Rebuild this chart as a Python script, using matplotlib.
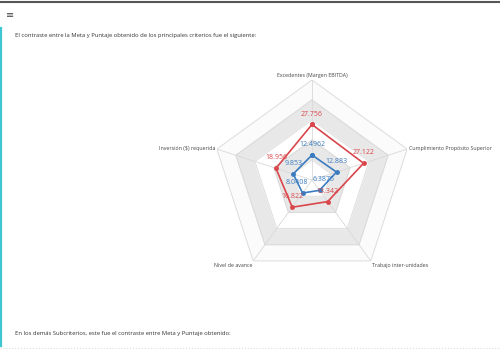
import matplotlib.pyplot as plt
import numpy as np

plt.rcParams['font.family'] = ['Open Sans', 'DejaVu Sans']

categories = ["Excedentes (Margen EBITDA)", "Cumplimiento Propósito Superior",
              "Trabajo inter-unidades", "Nivel de avance", "Inversión ($) requerida"]
meta = [27.756, 27.122, 13.342, 16.822, 18.956]
puntaje = [12.4962, 12.883, 6.3875, 8.0408, 9.853]
meta_labels = ["27.756", "27.122", "13.342", "16.822", "18.956"]
puntaje_labels = ["12.4962", "12.883", "6.3875", "8.0408", "9.853"]
levels = [10, 20, 30, 40, 50]

red = "#d9464b"
blue = "#3b7cc0"

fig = plt.figure(figsize=(5, 3.5), dpi=100)

# page background: header, texts, left accent bar
bg = fig.add_axes([0, 0, 1, 1])
bg.set_xlim(0, 500)
bg.set_ylim(350, 0)
bg.axis("off")
bg.axhline(2, color="#555555", lw=1.5)
bg.text(10, 15, "≡", fontsize=7, color="#444444", ha="center", va="center",
        family=['DejaVu Sans'])
bg.plot([1, 1], [28, 346], color="#3fc6d3", lw=1.6)
bg.text(15, 35, "El contraste entre la Meta y Puntaje obtenido de los principales criterios fue el siguiente:",
        fontsize=4.2, color="#333333", va="center")
bg.text(15, 333, "En los demás Subcriterios, este fue el contraste entre Meta y Puntaje obtenido:",
        fontsize=4.2, color="#333333", va="center")
bg.axhline(348, color="#dddddd", lw=0.8, ls=":")

# radar chart
ax = fig.add_axes([0.424, 0.2, 0.4, 0.5714], projection="polar")
ax.set_theta_offset(np.pi / 2)
ax.set_theta_direction(-1)
ax.set_ylim(0, 50)
ax.axis("off")

n = len(categories)
theta = np.linspace(0, 2 * np.pi, n, endpoint=False)
theta_c = np.append(theta, theta[0])

band_colors = ["#ffffff", "#e8e8e8", "#ffffff", "#e8e8e8", "#fbfbfb"]
for lev, c in zip(levels[::-1], band_colors[::-1]):
    ax.fill(theta_c, [lev] * (n + 1), color=c, zorder=1)
for lev in levels:
    ax.plot(theta_c, [lev] * (n + 1), color="#d9d9d9", lw=0.6, zorder=2)
for t in theta:
    ax.plot([t, t], [0, levels[-1]], color="#d9d9d9", lw=0.6, zorder=2)

ax.plot(theta_c, np.append(meta, meta[0]), color=red, lw=1.2, marker="o", ms=2.5, zorder=4)
ax.plot(theta_c, np.append(puntaje, puntaje[0]), color=blue, lw=1.2, marker="o", ms=2.5, zorder=5)

for t, v, s in zip(theta, meta, meta_labels):
    ax.annotate(s, (t, v), xytext=(0, 5), textcoords="offset points", ha="center",
                va="bottom", fontsize=5, color=red, zorder=6)
# small horizontal nudges keep the two inner blue labels apart
blue_dx = [0, 0, 3, -4, 0]
for t, v, s, dx in zip(theta, puntaje, puntaje_labels, blue_dx):
    ax.annotate(s, (t, v), xytext=(dx, 5), textcoords="offset points", ha="center",
                va="bottom", fontsize=5, color=blue, zorder=6)

label_align = [("center", "bottom"), ("left", "center"), ("left", "top"),
               ("right", "top"), ("right", "center")]
for t, name, (ha, va) in zip(theta, categories, label_align):
    ax.text(t, 51, name, ha=ha, va=va, fontsize=3.8, color="#444444")

fig.savefig("out.png", dpi=100)
